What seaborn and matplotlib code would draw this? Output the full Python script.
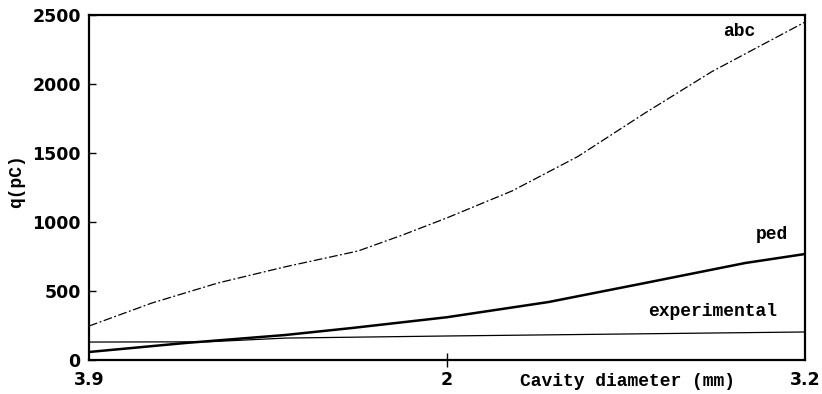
import matplotlib
matplotlib.use("Agg")
import matplotlib.pyplot as plt
import seaborn as sns
import pandas as pd

# Data
abc_x = [0.8, 1.011, 1.232, 1.457, 1.702, 1.85, 2.0, 2.218, 2.439, 2.664, 2.888, 3.2]
abc_y = [246, 413, 558, 675, 790, 905, 1030, 1225, 1475, 1790, 2090, 2449]
ped_x = [0.8, 1.122, 1.457, 1.682, 2.0, 2.34, 2.664, 3.0, 3.2]
ped_y = [58, 123, 181, 232, 310, 420, 558, 703, 768]
exp_x = [0.8, 1.2, 1.46, 2.0, 3.2]
exp_y = [130, 132, 159, 174, 203]

xtick_pos = [0.8, 2.0, 3.2]
xtick_labels = ["3.9", "2", "3.2"]
ytick_pos = [0, 500, 1000, 1500, 2000, 2500]
ytick_labels = ["0", "500", "1000", "1500", "2000", "2500"]

sns.set_style("white")
plt.rcParams['font.family'] = ['DejaVu Sans']
plt.rcParams['text.color'] = 'black'
plt.rcParams['xtick.color'] = 'black'
plt.rcParams['ytick.color'] = 'black'

fig = plt.figure(figsize=(8.22, 3.94), dpi=100)
ax = fig.add_axes([89/822, 34/394, (805-89)/822, (360-15)/394])

df_abc = pd.DataFrame({"x": abc_x, "y": abc_y})
df_ped = pd.DataFrame({"x": ped_x, "y": ped_y})
df_exp = pd.DataFrame({"x": exp_x, "y": exp_y})

sns.lineplot(data=df_abc, x="x", y="y", ax=ax, color="black", lw=0.9,
             linestyle=(0, (7, 2, 1.5, 2)), sort=False)
sns.lineplot(data=df_ped, x="x", y="y", ax=ax, color="black", lw=1.8, sort=False)
sns.lineplot(data=df_exp, x="x", y="y", ax=ax, color="black", lw=0.9, sort=False)

ax.set_xlim(0.8, 3.2)
ax.set_ylim(0, 2500)
ax.set_xlabel("")
ax.set_ylabel("")

for s in ax.spines.values():
    s.set_linewidth(1.6)
    s.set_color("black")
    s.set_visible(True)

ax.set_yticks(ytick_pos)
ax.set_yticklabels(ytick_labels, fontsize=12.5, fontweight="bold", color="black")
ax.tick_params(axis="y", direction="in", length=5, width=1, pad=6, left=True)
ax.set_xticks(xtick_pos)
ax.set_xticklabels(xtick_labels, fontsize=12.5, fontweight="bold", color="black")
ax.tick_params(axis="x", direction="inout", length=10, width=1, pad=3, bottom=True)
xt = ax.get_xticklines()
for i, t in enumerate(xt):
    if i // 2 != 1:
        t.set_visible(False)

mono = dict(family="Liberation Mono", fontweight="bold", fontsize=13, color="black")
ax.text(2.98, 2377, "abc", ha="center", va="center", **mono)
ax.text(3.09, 906, "ped", ha="center", va="center", **mono)
ax.text(2.89, 348, "experimental", ha="center", va="center", **mono)

fig.text(628/822, 1 - 382/394, "Cavity diameter (mm)", ha="center", va="center", **mono)
fig.text(17/822, 1 - 181/394, "q(pC)", ha="center", va="center", rotation=90, **mono)

fig.savefig("out.png", dpi=100)
